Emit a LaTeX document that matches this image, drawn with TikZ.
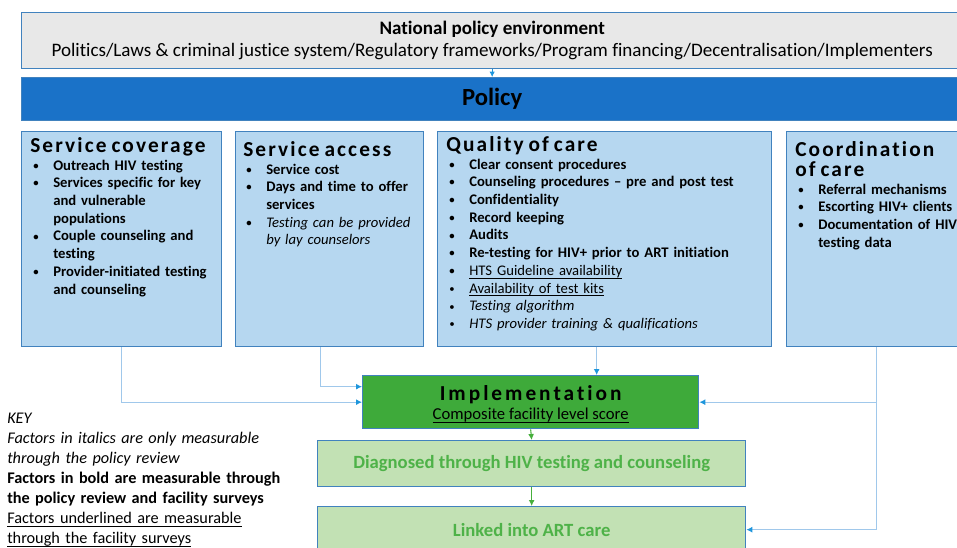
\documentclass[tikz,border=0pt]{standalone}
\usepackage{fontspec}
\setmainfont{Carlito}[Ligatures=NoCommon]
\newfontfamily\spacedfont[LetterSpace=10,Ligatures=NoCommon]{Carlito}
\newfontfamily\widefont[LetterSpace=14,Ligatures=NoCommon]{Carlito}
\usetikzlibrary{arrows.meta}
\usetikzlibrary{positioning}

\definecolor{natgray}{RGB}{232,232,232}
\definecolor{boxline}{RGB}{65,130,190}
\definecolor{policyblue}{RGB}{26,114,200}
\definecolor{factorfill}{RGB}{182,215,240}
\definecolor{implgreen}{RGB}{62,170,58}
\definecolor{outfill}{RGB}{194,225,180}
\definecolor{outtext}{RGB}{78,178,72}
\definecolor{connline}{RGB}{160,200,235}
\definecolor{tipblue}{RGB}{30,150,220}
\definecolor{arrowgreen}{RGB}{70,175,60}

\newcommand{\head}[1]{{\fontsize{16pt}{15pt}\spacedfont\bfseries\rule{0pt}{13pt}#1\par}}
\newcommand{\itm}[1]{\par\noindent\hangindent=17.25pt\hangafter=1%
  \makebox[17.25pt][l]{\hspace{2.25pt}\raisebox{0.6pt}{\fontsize{8pt}{8pt}\selectfont\textbullet}}#1\par}
\newcommand{\nl}{\hfil\break}
\newcommand{\uln}[1]{\leavevmode\setbox0\hbox{#1}\rlap{\rule[-2.3pt]{\wd0}{0.7pt}}\box0}

\tikzset{
  panel/.style={draw=boxline,line width=1pt,anchor=north west,inner sep=0pt},
  factor/.style={panel,fill=factorfill},
  listtext/.style={anchor=north west,inner sep=0pt,text width=#1,align=left,
    font=\fontsize{11pt}{13.3pt}\selectfont\bfseries},
  conn/.style={draw=connline,line width=0.8pt,-{Latex[length=4.5pt,width=4.5pt,color=tipblue]}},
  gconn/.style={draw=arrowgreen,line width=0.8pt,-{Latex[length=4.5pt,width=4.5pt,color=arrowgreen]}},
}

\begin{document}
\begin{tikzpicture}[x=0.75pt,y=-0.75pt]
\def\px{0.75pt}
\useasboundingbox (0,0) rectangle (957,547);

%National policy environment
\node[panel,fill=natgray,minimum width=941*\px,minimum height=56*\px,align=center,
  font=\fontsize{14.3pt}{16.5pt}\selectfont] (nat) at (21,12)
  {\textbf{National policy environment}\\
   Politics/Laws \& criminal justice system/Regulatory frameworks/Program financing/Decentralisation/Implementers};

%Policy bar
\node[panel,fill=policyblue,minimum width=941*\px,minimum height=43*\px,
  font=\fontsize{18.5pt}{20pt}\selectfont\bfseries] (pol) at (21,77) {Policy};
\draw[-{Latex[length=4pt,width=4pt,color=tipblue]},draw=tipblue,line width=0.6pt] (nat.south) -- (pol.north);

%Factor boxes
\node[factor,minimum width=200*\px,minimum height=215*\px] (cov) at (21,131) {};
\node[factor,minimum width=188*\px,minimum height=215*\px] (acc) at (235,131) {};
\node[factor,minimum width=334*\px,minimum height=215*\px] (qual) at (437,131) {};
\node[factor,minimum width=180*\px,minimum height=215*\px] (coord) at (786,131) {};

\node[listtext=190*\px] (covtext) at ([shift={(9,3.7)}]cov.north west) {%
  \head{Service coverage}
  \itm{Outreach HIV testing}
  \itm{Services specific for key\nl and vulnerable\nl populations}
  \itm{Couple counseling and\nl testing}
  \itm{Provider-initiated testing\nl and counseling}};

\node[listtext=178*\px] (acctext) at ([shift={(8,7.7)}]acc.north west) {%
  \head{Service access}
  \itm{Service cost}
  \itm{Days and time to offer\nl services}
  \itm{\mdseries\itshape Testing can be provided\nl by lay counselors}};

\node[listtext=324*\px] (qualtext) at ([shift={(9,2.7)}]qual.north west) {%
  \head{Quality of care}
  \itm{Clear consent procedures}
  \itm{Counseling procedures -- pre and post test}
  \itm{Confidentiality}
  \itm{Record keeping}
  \itm{Audits}
  \itm{Re-testing for HIV+ prior to ART initiation}
  \itm{\mdseries\uln{HTS Guideline availability}}
  \itm{\mdseries\uln{Availability of test kits}}
  \itm{\mdseries\itshape Testing algorithm}
  \itm{\mdseries\itshape HTS provider training \& qualifications}};

\node[listtext=170*\px] (coordtext) at ([shift={(9,7.7)}]coord.north west) {%
  \head{Coordination\\of care}
  \itm{Referral mechanisms}
  \itm{Escorting HIV+ clients}
  \itm{Documentation of HIV\nl testing data}};

%Implementation and outcomes
\node[panel,fill=implgreen,minimum width=336*\px,minimum height=53*\px] (impl) at (362,375) {};
\node[anchor=base,inner sep=0pt,font=\fontsize{16pt}{18pt}\widefont\bfseries]
  (impltitle) at ([shift={(0,-1.5)}]impl.center) {Implementation};
\node[anchor=base,inner sep=0pt,font=\fontsize{12.5pt}{14pt}\selectfont]
  (implscore) at ([shift={(0,17.5)}]impl.center) {\uln{Composite facility level score}};

\node[panel,fill=outfill,minimum width=428*\px,minimum height=46*\px,text=outtext,
  font=\fontsize{14pt}{16pt}\selectfont\bfseries] (diag) at (317,440)
  {Diagnosed through HIV testing and counseling};
\node[panel,fill=outfill,minimum width=428*\px,minimum height=46*\px,text=outtext,
  font=\fontsize{14pt}{16pt}\selectfont\bfseries] (link) at (317,506)
  {Linked into ART care};

%connectors
\draw[conn] (cov.south) |- (impl.west);
\draw[conn] ([shift={(-9,0)}]acc.south) |- ([shift={(0,-15.5)}]impl.west);
\draw[conn] ([shift={(-8,0)}]qual.south) -- ([shift={(-8,0)}]qual.south |- impl.north);
\draw[conn] (coord.south) |- (impl.east);
\draw[conn] (coord.south) |- (link.east);
\draw[gconn] (impl.south) -- (diag.north);
\draw[gconn] (diag.south) -- (link.north);

%KEY
\node[anchor=north west,inner sep=0pt,text width=300*\px,align=left,
  font=\fontsize{12.2pt}{15pt}\selectfont] (key) at (7,409) {%
  \rule{0pt}{11pt}\textit{KEY}\\
  \textit{Factors in italics are only measurable}\\
  \textit{through the policy review}\\
  \textbf{Factors in bold are measurable through}\\
  \textbf{the policy review and facility surveys}\\
  \uln{Factors underlined are measurable}\\
  \uln{through the facility surveys}};
\end{tikzpicture}
\end{document}
